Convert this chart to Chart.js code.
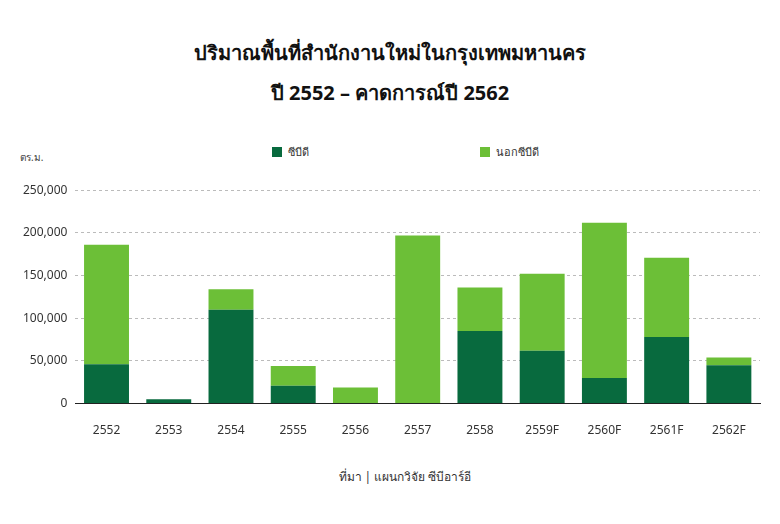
<!DOCTYPE html>
<html><head><meta charset="utf-8">
<script src="https://cdn.jsdelivr.net/npm/chart.js@4"></script>
<style>
body{margin:0;background:#fff;font-family:"Noto Sans","Noto Sans CJK SC",sans-serif;}
#wrap{position:relative;width:780px;height:524px;}
.t{position:absolute;left:0;width:780px;text-align:center;font-weight:bold;font-size:20px;color:#111;}
.lg{position:absolute;top:143px;font-size:11px;color:#333;}
.sw{display:inline-block;width:10px;height:10px;margin-right:6px;vertical-align:-1px;}
#unit{position:absolute;left:20px;top:150px;font-size:10px;color:#444;}
#src{position:absolute;top:467px;left:0;width:780px;text-align:center;font-size:12px;color:#333;padding-left:30px;box-sizing:border-box}
canvas{position:absolute;left:0;top:0;}
</style></head><body>
<div id="wrap">
<div class="t" style="top:37px">ปริมาณพื้นที่สำนักงานใหม่ในกรุงเทพมหานคร</div>
<div class="t" style="top:77px">ปี 2552 – คาดการณ์ปี 2562</div>
<div class="lg" style="left:272px"><span class="sw" style="background:#086a3e"></span>ซีบีดี</div>
<div class="lg" style="left:480px"><span class="sw" style="background:#6cbf37"></span>นอกซีบีดี</div>
<div id="unit">ตร.ม.</div>
<div id="src">ที่มา | แผนกวิจัย ซีบีอาร์อี</div>
<div style="position:absolute;left:0;top:175px;width:780px;height:280px"><canvas id="c"></canvas></div>
</div>
<script>
const categories=["2552","2553","2554","2555","2556","2557","2558","2559F","2560F","2561F","2562F"];
const cbd=[46000,5000,110000,21000,0,0,85000,62000,30000,78000,45000];
const nonCbd=[140000,0,24000,23000,19000,197000,51000,90000,182000,93000,9000];
new Chart(document.getElementById('c'),{type:'bar',
data:{labels:categories,datasets:[
{label:'ซีบีดี',data:cbd,backgroundColor:'#086a3e'},
{label:'นอกซีบีดี',data:nonCbd,backgroundColor:'#6cbf37'}]},
options:{responsive:true,maintainAspectRatio:false,animation:false,
layout:{padding:{left:15,right:20,top:1,bottom:5}},
datasets:{bar:{categoryPercentage:0.76,barPercentage:0.95}},
plugins:{legend:{display:false},tooltip:{enabled:false}},
scales:{x:{stacked:true,grid:{display:false},border:{display:true,color:'#222'},
ticks:{color:'#333',font:{size:12,family:'Noto Sans'},padding:12}},
y:{stacked:true,min:0,max:250000,border:{display:false,dash:[3,3]},
grid:{color:'#bbb',drawTicks:false},
ticks:{stepSize:50000,color:'#333',padding:8,font:{size:12,family:'Noto Sans'},
callback:v=>v.toLocaleString('en-US')}}}}});
</script>
</body></html>
